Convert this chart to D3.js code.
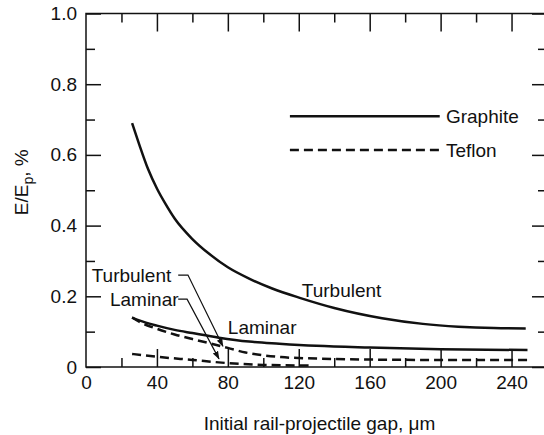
<!DOCTYPE html>
<meta charset="utf-8">
<style>
body { margin: 0; background: #fff; }
svg text { font-family: "Liberation Sans", Arial, sans-serif; font-size: 19px; fill: #111; }
.frame { fill: none; stroke: #111; stroke-width: 1.5px; }
.ticks line { stroke: #111; stroke-width: 1.5px; }
.ticks path, .labels path { display: none; }
.curve { fill: none; stroke: #111; stroke-width: 2.5px; }
.dashed { stroke-dasharray: 9, 5; }
.leader { fill: none; stroke: #111; stroke-width: 1.2px; }
</style>
<body>
<script src="https://d3js.org/d3.v7.min.js"></script>
<script>

// tick values
var xMajor = [0, 40, 80, 120, 160, 200, 240];
var xMinor = [20, 60, 100, 140, 180, 220];
var yMajor = [0, 0.2, 0.4, 0.6, 0.8, 1.0];
var yMinor = [0.1, 0.3, 0.5, 0.7, 0.9];

// graphite, turbulent
var graphiteTurbGap = [26, 30, 35, 40, 45, 50, 60, 70, 80, 92, 105, 121, 140, 167, 190, 210, 230, 248];
var graphiteTurb    = [0.69, 0.63, 0.56, 0.505, 0.46, 0.42, 0.362, 0.318, 0.282, 0.25, 0.222, 0.195, 0.167, 0.138, 0.122, 0.114, 0.11, 0.109];

// graphite, laminar
var graphiteLamGap = [26, 30, 40, 50, 60, 75, 92, 109, 130, 160, 200, 249];
var graphiteLam    = [0.14, 0.132, 0.117, 0.105, 0.096, 0.083, 0.072, 0.066, 0.06, 0.055, 0.05, 0.048];

// teflon, turbulent
var teflonTurbGap = [26, 30, 40, 50, 60, 70, 80, 90, 100, 110, 130, 160, 200, 249];
var teflonTurb    = [0.14, 0.128, 0.108, 0.092, 0.079, 0.067, 0.054, 0.041, 0.033, 0.028, 0.024, 0.021, 0.02, 0.02];

// teflon, laminar
var teflonLamGap = [26, 40, 60, 80, 100, 128];
var teflonLam    = [0.037, 0.029, 0.02, 0.011, 0.006, 0.004];

var series = [
    {gap: graphiteTurbGap, val: graphiteTurb, dashed: false},
    {gap: graphiteLamGap, val: graphiteLam, dashed: false},
    {gap: teflonTurbGap, val: teflonTurb, dashed: true},
    {gap: teflonLamGap, val: teflonLam, dashed: true}
];

// set the dimensions and margins of the graph
var margin = {top: 13.5, left: 86},
    width = 461,
    height = 353.5;

var x = d3.scaleLinear().domain([0, 260]).range([0, width]);
var y = d3.scaleLinear().domain([0, 1]).range([height, 0]);

var svg = d3.select("body").append("svg")
    .attr("width", 544)
    .attr("height", 435)
    .append("g")
    .attr("transform", "translate(" + margin.left + "," + margin.top + ")");

svg.append("defs").append("marker")
    .attr("id", "arrow")
    .attr("viewBox", "0 0 10 10")
    .attr("refX", 9).attr("refY", 5)
    .attr("markerWidth", 7).attr("markerHeight", 7)
    .attr("orient", "auto")
    .append("path")
    .attr("d", "M0,1.5L10,5L0,8.5Z")
    .attr("fill", "#111");

// frame (right edge falls just outside the picture)
svg.append("rect")
    .attr("class", "frame")
    .attr("width", width)
    .attr("height", height);

// inward ticks on all four sides
function ticks(axis, tr) {
    svg.append("g").attr("class", "ticks")
        .attr("transform", tr || null)
        .call(axis.tickFormat(""));
}
ticks(d3.axisLeft(y).tickValues(yMajor).tickSize(-15));
ticks(d3.axisLeft(y).tickValues(yMinor).tickSize(-9));
ticks(d3.axisRight(y).tickValues(yMajor).tickSize(-15), "translate(" + width + ",0)");
ticks(d3.axisRight(y).tickValues(yMinor).tickSize(-9), "translate(" + width + ",0)");
ticks(d3.axisTop(x).tickValues(xMajor.slice(1)).tickSize(-18));
ticks(d3.axisTop(x).tickValues(xMinor).tickSize(-9));
ticks(d3.axisBottom(x).tickValues(xMajor.slice(1)).tickSize(-18), "translate(0," + height + ")");
ticks(d3.axisBottom(x).tickValues(xMinor).tickSize(-9), "translate(0," + height + ")");

// tick labels
svg.append("g").attr("class", "labels")
    .attr("transform", "translate(0," + height + ")")
    .call(d3.axisBottom(x).tickValues(xMajor).tickSize(0).tickPadding(9));
svg.append("g").attr("class", "labels")
    .call(d3.axisLeft(y).tickValues(yMajor).tickSize(0).tickPadding(9)
        .tickFormat(function (d) { return d === 0 ? "0" : d3.format(".1f")(d); }));
svg.selectAll(".labels").attr("font-size", null).attr("font-family", null);

// axis titles
svg.append("text")
    .attr("x", width / 2 + 3)
    .attr("y", height + 63)
    .attr("text-anchor", "middle")
    .text("Initial rail-projectile gap, \u03bcm");

var yt = svg.append("text")
    .attr("transform", "translate(" + (-58) + "," + (height / 2 - 8) + ") rotate(-90)")
    .attr("text-anchor", "middle");
yt.append("tspan").text("E/E");
yt.append("tspan").attr("dy", 5).attr("font-size", "14px").text("p");
yt.append("tspan").attr("dy", -5).text(", %");

// curves
var line = d3.line()
    .x(function (d) { return x(d[0]); })
    .y(function (d) { return y(d[1]); })
    .curve(d3.curveMonotoneX);

series.forEach(function (s) {
    svg.append("path")
        .datum(d3.zip(s.gap, s.val))
        .attr("class", s.dashed ? "curve dashed" : "curve")
        .attr("d", line);
});

// curve labels
svg.append("text").attr("x", x(121.7)).attr("y", y(0.198)).text("Turbulent");
svg.append("text").attr("x", x(80)).attr("y", y(0.093)).text("Laminar");
svg.append("text").attr("x", x(3.2)).attr("y", y(0.24)).text("Turbulent");
svg.append("text").attr("x", x(13.5)).attr("y", y(0.173)).text("Laminar");

// leaders for the teflon labels
var leaders = [
    [[52, 0.26], [57.5, 0.26], [77.2, 0.059]],
    [[52, 0.192], [57, 0.192], [75, 0.023]]
];
leaders.forEach(function (p) {
    svg.append("path")
        .attr("class", "leader")
        .attr("marker-end", "url(#arrow)")
        .attr("d", d3.line().x(function (d) { return x(d[0]); }).y(function (d) { return y(d[1]); })(p));
});

// legend
var legend = [
    {name: "Graphite", v: 0.709, dashed: false},
    {name: "Teflon", v: 0.614, dashed: true}
];
legend.forEach(function (d) {
    svg.append("line")
        .attr("class", d.dashed ? "curve dashed" : "curve")
        .attr("x1", x(115)).attr("x2", x(199.5))
        .attr("y1", y(d.v)).attr("y2", y(d.v));
    svg.append("text")
        .attr("x", x(203))
        .attr("y", y(d.v))
        .attr("dy", "0.35em")
        .text(d.name);
});

</script>
</body>
